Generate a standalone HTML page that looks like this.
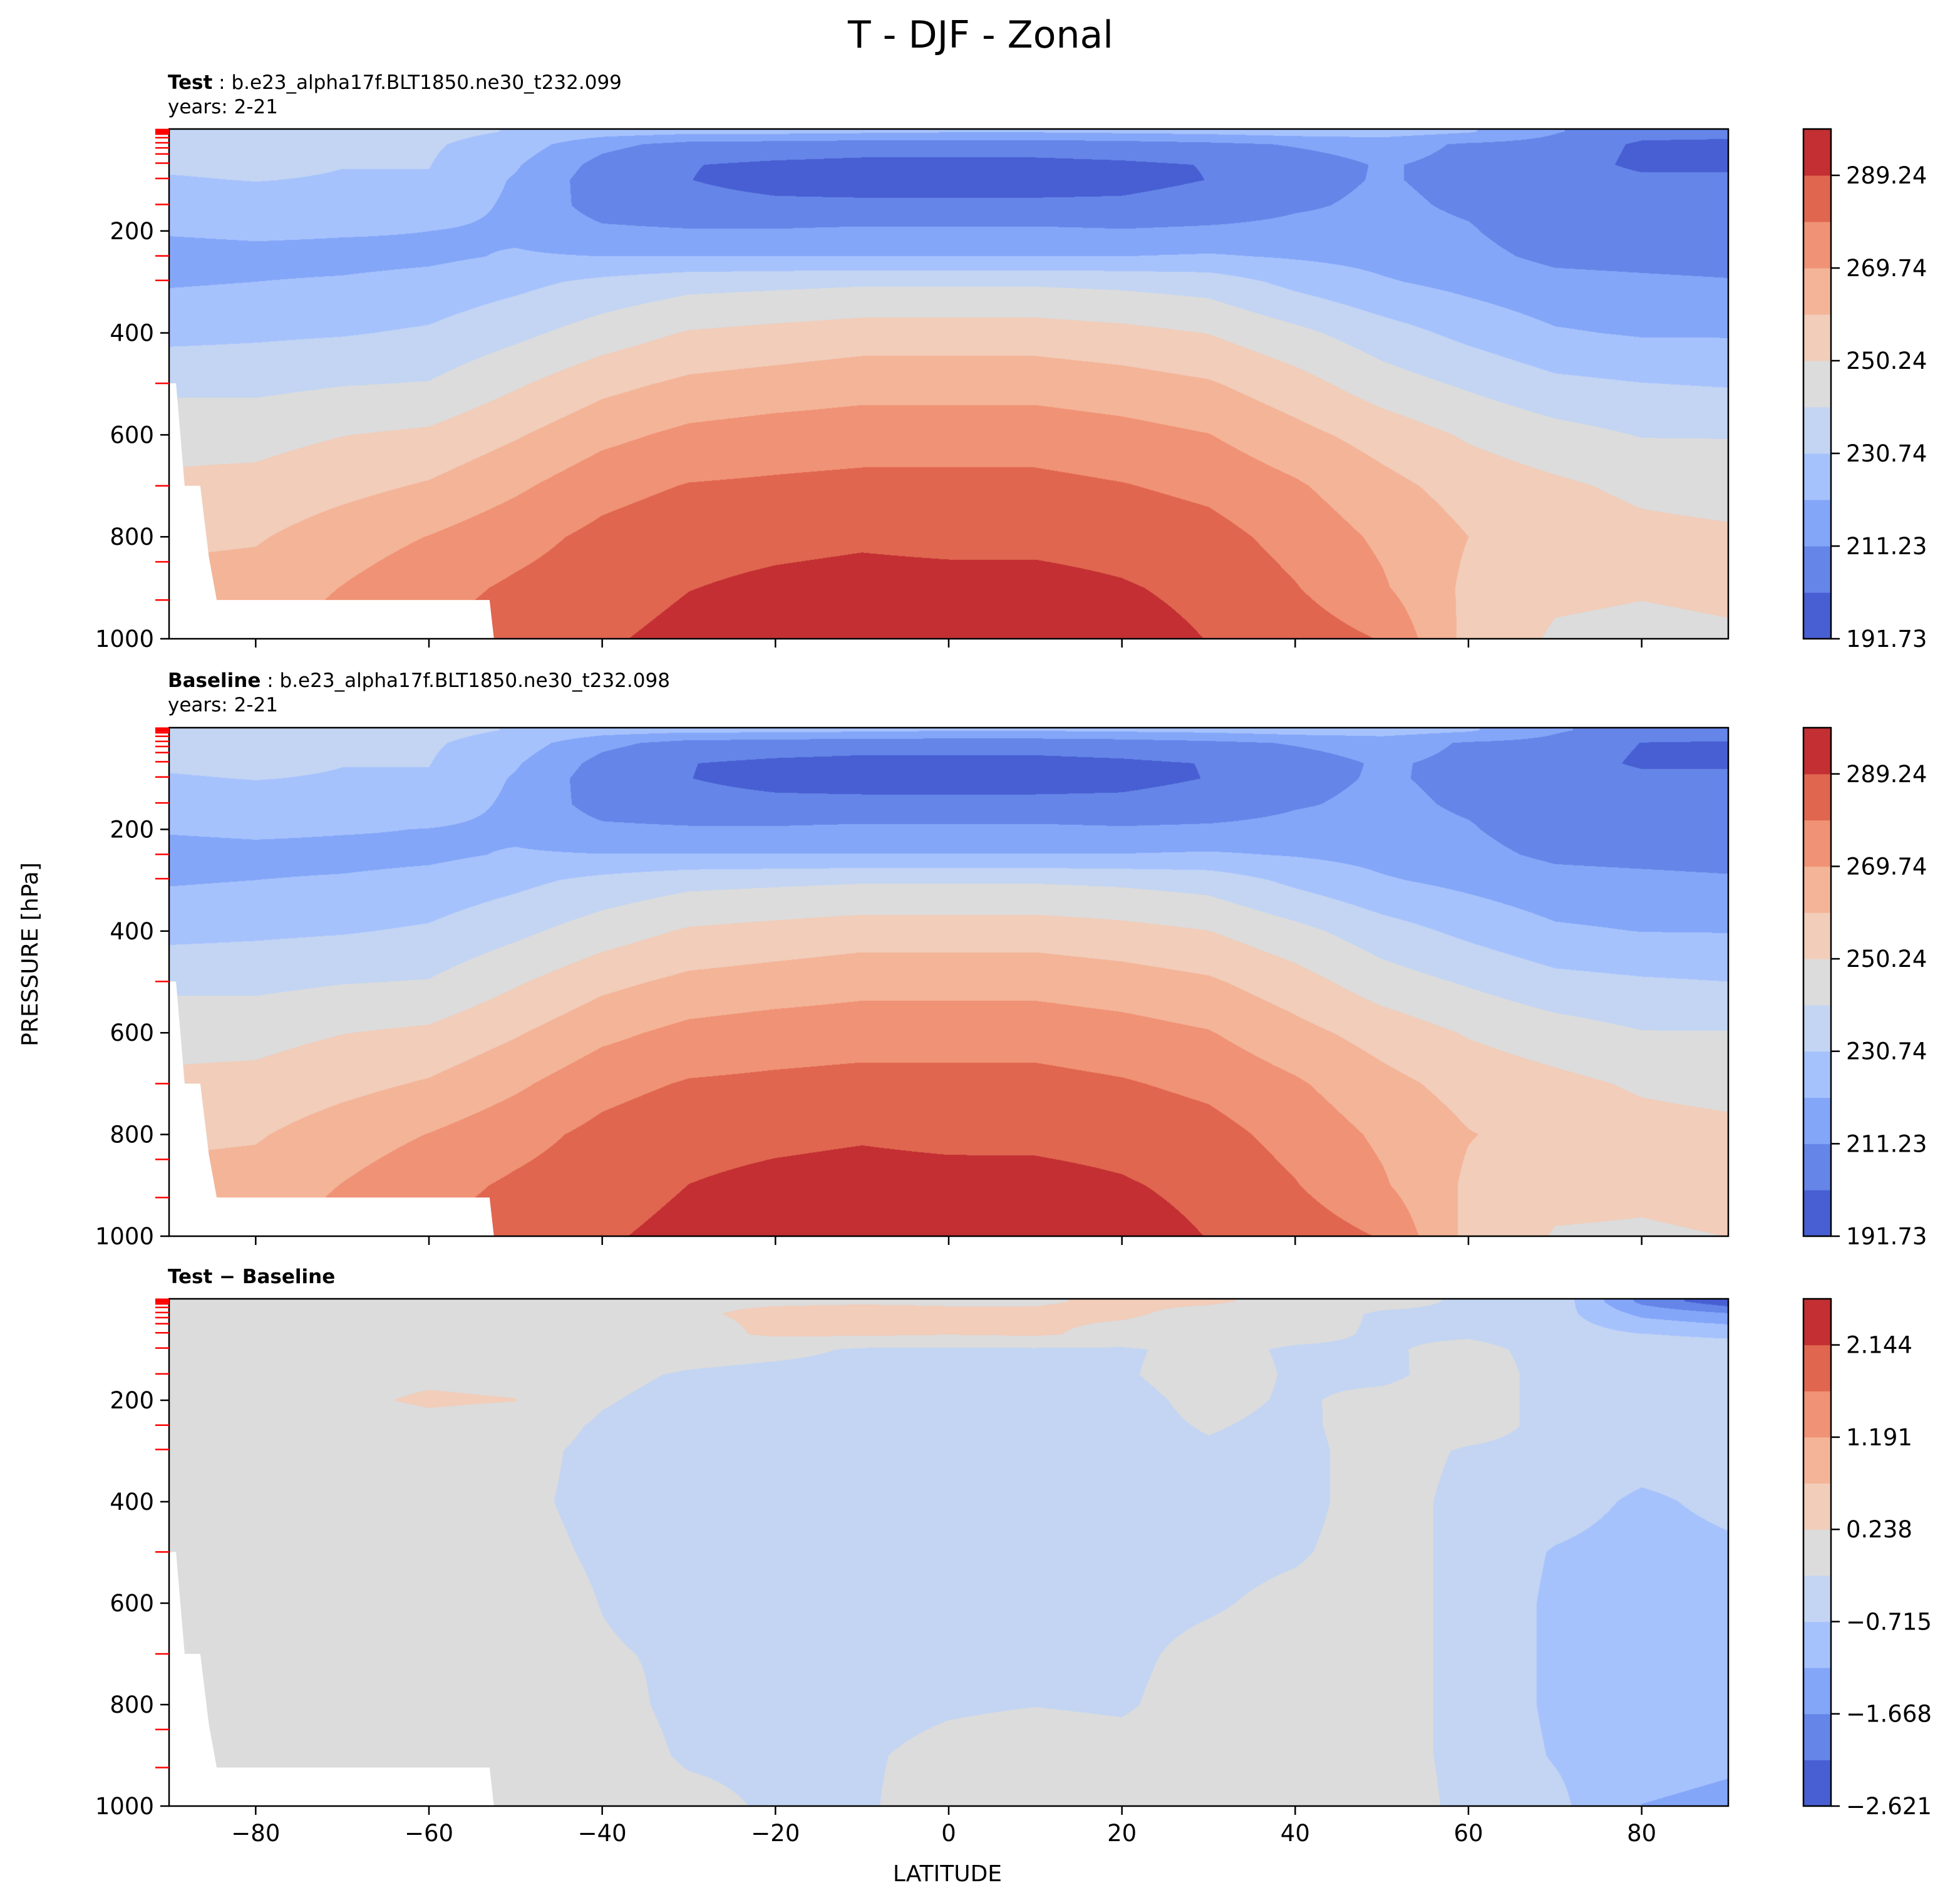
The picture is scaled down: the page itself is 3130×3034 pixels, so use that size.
<!DOCTYPE html>
<html><head><meta charset="utf-8">
<style>
html,body{margin:0;padding:0;background:#fff;}
#wrap{position:relative;width:3130px;height:3034px;overflow:hidden;font-family:"DejaVu Sans","Liberation Sans",sans-serif;}
canvas{position:absolute;}
svg{position:absolute;left:0;top:0;font-family:"DejaVu Sans","Liberation Sans",sans-serif;}
</style></head>
<body>
<div id="wrap">
<canvas id="c1" width="2490" height="814" style="left:270px;top:206px"></canvas>
<canvas id="c2" width="2490" height="812" style="left:270px;top:1162px"></canvas>
<canvas id="c3" width="2490" height="810" style="left:270px;top:2074px"></canvas>
<svg id="ov" width="3130" height="3034"></svg>
</div>
<script>
// ---------- data ----------
const lats = [-90,-80,-70,-60,-50,-40,-30,-20,-10,0,10,20,30,40,50,60,70,80,90];
const levels = [5,30,70,100,150,200,250,300,400,500,600,700,800,900,1000];
// test temperature (K), one array per latitude, values at each level
const tLatM90 = [234,233,232,230,226,222,217,220,228,238,247,252,258,263,267];
const tLatM80 = [235,234,233,231,227,223,218,221,229,238,247,253,259,264,268];
const tLatM70 = [234,233,231,230,227,222,218,222,230,240,250,257,265,270,274];
const tLatM60 = [234,232,231,230,227,221,219,224,232,241,252,261,270,276,280];
const tLatM50 = [230,226,222,220,219,219,222,228,238,249,259,268,276,281,284];
const tLatM40 = [226,214,208,206,207,213,221,233,245,257,267,276,282,285,288];
const tLatM30 = [224,208,201.8,201.6,204,212,221,237,251,262,272,280,286,289,292];
const tLatM20 = [224,207,200,199,203,212,221,238,253,264,274,281,287,291,295];
const tLatM10 = [223,206,199,198,203,213,221,239,255,266,275,282,288,292,297];
const tLat0   = [222,206,199,198,203,213,221,239,255,266,275,282,287,292,298];
const tLat10  = [222,206,199,198,203,213,221,239,255,266,275,282,287,292,297];
const tLat20  = [223,207,200,199,203,212,221,238,253,264,273,280,286,290,293];
const tLat30  = [224,209,201.8,201.6,205,213,222,236,250,261,270,277,283,287,289];
const tLat40  = [226,212,207,208,210,214,220,228,243,254,263,271,276,280,285];
const tLat50  = [226,215,212,212,213,214,218,222,235,245,256,263,268,271,279];
const tLat60  = [222,210,209,209,210,212,214,218,228,239,249,256,260,258,257];
const tLat70  = [212,208,207,208,207,206,209,214,222,233,244,252,256,252,249];
const tLat80  = [205,200,199,204,206,206,208,213,220,231,240,248,253,251,248];
const tLat90  = [205,199,199,204,205,205,207,212,220,230,240,246,252,252,249];
const testByLat = [tLatM90,tLatM80,tLatM70,tLatM60,tLatM50,tLatM40,tLatM30,tLatM20,tLatM10,tLat0,tLat10,tLat20,tLat30,tLat40,tLat50,tLat60,tLat70,tLat80,tLat90];
// test - baseline difference (K)
const dLatM90 = [0,0,0,0,0,0,0,0,0,0,0,0,0,0,0];
const dLatM80 = [0,0,0,0,0,0,0,0,0,0,0,0,0,0.1,0.1];
const dLatM70 = [0,0,0,0,0.1,0.15,0,0,0,0,0,0,0,0,0];
const dLatM60 = [0,0,0,0,0.15,0.3,0.1,0,0,0,0,0,0,0,0];
const dLatM50 = [0,0,0,0,0.1,0.25,0,-0.1,-0.15,-0.1,0,0,0,0,0];
const dLatM40 = [0.1,0.1,0,0,-0.1,-0.2,-0.3,-0.35,-0.35,-0.3,-0.25,-0.2,-0.1,0,0];
const dLatM30 = [0.2,0.2,0.1,0,-0.3,-0.4,-0.4,-0.4,-0.4,-0.4,-0.4,-0.3,-0.35,-0.3,-0.1];
const dLatM20 = [0.2,0.3,0.3,-0.1,-0.4,-0.4,-0.4,-0.4,-0.4,-0.4,-0.4,-0.4,-0.4,-0.35,-0.3];
const dLatM10 = [0.2,0.35,0.3,-0.3,-0.4,-0.4,-0.4,-0.4,-0.4,-0.4,-0.4,-0.4,-0.4,-0.3,-0.3];
const dLat0   = [0.2,0.3,0.25,-0.3,-0.4,-0.4,-0.4,-0.4,-0.4,-0.4,-0.4,-0.4,-0.3,-0.1,0];
const dLat10  = [0.2,0.3,0.3,-0.3,-0.4,-0.4,-0.4,-0.4,-0.4,-0.4,-0.4,-0.35,-0.25,0,0.05];
const dLat20  = [0.3,0.3,0.1,-0.3,-0.3,-0.4,-0.4,-0.4,-0.4,-0.4,-0.4,-0.35,-0.3,-0.05,0];
const dLat30  = [0.3,0.1,0,-0.1,0,-0.1,-0.2,-0.3,-0.4,-0.4,-0.3,-0.1,0,0,0];
const dLat40  = [0.1,0,-0.1,-0.3,-0.3,-0.3,-0.35,-0.4,-0.4,-0.3,-0.1,0,0,0,0];
const dLat50  = [-0.1,-0.3,-0.3,-0.3,-0.35,-0.1,0,0,0,0,0,0,0,0,0.1];
const dLat60  = [-0.3,-0.3,-0.3,-0.1,0,0,0,-0.3,-0.4,-0.4,-0.4,-0.4,-0.4,-0.4,-0.4];
const dLat70  = [-0.4,-0.5,-0.45,-0.4,-0.4,-0.4,-0.4,-0.4,-0.5,-0.75,-0.8,-0.8,-0.8,-0.75,-0.6];
const dLat80  = [-1.8,-1.3,-0.7,-0.5,-0.4,-0.4,-0.4,-0.5,-0.8,-0.9,-0.9,-0.9,-0.9,-1.0,-1.2];
const dLat90  = [-2.5,-1.6,-0.8,-0.5,-0.4,-0.4,-0.45,-0.5,-0.6,-0.8,-0.9,-0.9,-0.9,-1.1,-1.3];
const diffByLat = [dLatM90,dLatM80,dLatM70,dLatM60,dLatM50,dLatM40,dLatM30,dLatM20,dLatM10,dLat0,dLat10,dLat20,dLat30,dLat40,dLat50,dLat60,dLat70,dLat80,dLat90];
// missing-data (topography) mask outline
const maskLat = [-90,-89.2,-88.2,-86.4,-85.4,-84.5,-53,-52.5,-90];
const maskP   = [499,499,700,700,840,924,924,1000,1000];
// contour levels / tick labels
const tempMin = 191.73, tempStep = 9.75;
const diffMin = -2.621, diffStep = 0.4765;
const tempTicks = ["191.73","211.23","230.74","250.24","269.74","289.24"];
const diffTicks = ["\u22122.621","\u22121.668","\u22120.715","0.238","1.191","2.144"];
const latTicks = [-80,-60,-40,-20,0,20,40,60,80];
const pTicks = [200,400,600,800,1000];
const modelLevels = [1,2,3,5,7,10,17,27,37,49,67,97,148,249,297,499,700,849,924];
const colors = ["#485fd3","#6586e8","#84a6f8","#a6c2fd","#c3d5f3","#dcdcdc","#f1cdba","#f4b498","#f09275","#e0664f","#c32f32"];

// ---------- geometry ----------
const X0=270, X1=2760;
const panels=[{top:206,bot:1020},{top:1162,bot:1974},{top:2074,bot:2884}];
function xOf(lat){return X0+(lat+90)/180*(X1-X0);}
function yOf(p,pan){return pan.top+p/1000*(pan.bot-pan.top);}
function rgb(h){return [parseInt(h.slice(1,3),16),parseInt(h.slice(3,5),16),parseInt(h.slice(5,7),16)];}
const rgbs=colors.map(rgb);

function sample(field,lat,p){
  let i=0; while(i<lats.length-2 && lat>lats[i+1]) i++;
  let fx=(lat-lats[i])/(lats[i+1]-lats[i]); fx=Math.max(0,Math.min(1,fx));
  let pp=Math.max(levels[0],Math.min(1000,p));
  let j=0; while(j<levels.length-2 && pp>levels[j+1]) j++;
  let fy=(pp-levels[j])/(levels[j+1]-levels[j]);
  const a=field[i][j],b=field[i+1][j],c=field[i][j+1],d=field[i+1][j+1];
  return (a*(1-fx)+b*fx)*(1-fy)+(c*(1-fx)+d*fx)*fy;
}
function render(id,pan,fn,vmin,step){
  const cv=document.getElementById(id),ctx=cv.getContext('2d');
  const W=cv.width,H=cv.height,img=ctx.createImageData(W,H),dt=img.data;
  for(let y=0;y<H;y++){
    const p=(y+0.5)/H*1000;
    for(let x=0;x<W;x++){
      const lat=-90+(x+0.5)/W*180;
      let k=Math.floor((fn(lat,p)-vmin)/step); k=Math.max(0,Math.min(10,k));
      const c=rgbs[k],o=(y*W+x)*4;
      dt[o]=c[0];dt[o+1]=c[1];dt[o+2]=c[2];dt[o+3]=255;
    }
  }
  ctx.putImageData(img,0,0);
}
render('c1',panels[0],(l,p)=>sample(testByLat,l,p),tempMin,tempStep);
render('c2',panels[1],(l,p)=>sample(testByLat,l,p)-sample(diffByLat,l,p),tempMin,tempStep);
render('c3',panels[2],(l,p)=>sample(diffByLat,l,p),diffMin,diffStep);

// ---------- overlay ----------
const NS='http://www.w3.org/2000/svg', ov=document.getElementById('ov');
function mk(tag,attrs,parent){const e=document.createElementNS(NS,tag);for(const k in attrs)e.setAttribute(k,attrs[k]);(parent||ov).appendChild(e);return e;}
function txt(s,attrs){const e=mk('text',attrs);e.textContent=s;return e;}

let t=txt('T - DJF - Zonal',{x:1566,y:76,'font-size':60,'text-anchor':'middle',fill:'#000'});



const subs=[
  {b:'Test',r:' : b.e23_alpha17f.BLT1850.ne30_t232.099',y:142,yr:true},
  {b:'Baseline',r:' : b.e23_alpha17f.BLT1850.ne30_t232.098',y:1097,yr:true},
  {b:'Test \u2212 Baseline',r:'',y:2049,yr:false}];
const subNames=['test-subtitle','baseline-subtitle','difference-subtitle'];
subs.forEach((s,i)=>{
  const e=mk('text',{x:268,y:s.y,'font-size':31,fill:'#000'});
  
  
  const b=mk('tspan',{'font-weight':'bold'},e); b.textContent=s.b;
  if(s.r){const r=mk('tspan',{},e); r.textContent=s.r;}
  if(s.yr){const y=txt('years: 2-21',{x:268,y:s.y+39,'font-size':31,fill:'#000'});
    
    }
});

panels.forEach((pan,pi)=>{
  const pts=maskLat.map((l,i)=>xOf(l)+','+yOf(maskP[i],pan)).join(' ');
  const m=mk('polygon',{points:pts,fill:'#fff'});
  
  
  const f=mk('rect',{x:X0,y:pan.top,width:X1-X0,height:pan.bot-pan.top,fill:'none',stroke:'#000','stroke-width':2.5});
  
  
  modelLevels.forEach(p=>{
    const l=mk('line',{x1:X0-22,x2:X0,y1:yOf(p,pan),y2:yOf(p,pan),stroke:'#ff0000','stroke-width':2.5});
    
    
  });
  pTicks.forEach(p=>{
    const y=yOf(p,pan);
    const l=mk('line',{x1:X0-14,x2:X0,y1:y,y2:y,stroke:'#000','stroke-width':2.5});
    
    
    const tl=txt(String(p),{x:X0-24,y:y+13,'font-size':37,'text-anchor':'end',fill:'#000'});
    
    
  });
  latTicks.forEach(v=>{
    const x=xOf(v);
    const l=mk('line',{x1:x,x2:x,y1:pan.bot,y2:pan.bot+14,stroke:'#000','stroke-width':2.5});
    
    
    if(pi===2){
      const tl=txt(v<0?'\u2212'+(-v):String(v),{x:x,y:pan.bot+56,'font-size':37,'text-anchor':'middle',fill:'#000'});
      
      
    }
  });
  const cb=mk('g',{});
  
  
  const h=(pan.bot-pan.top)/11;
  colors.forEach((c,k)=>{
    const r=mk('rect',{x:2880,y:pan.bot-(k+1)*h,width:44,height:h+0.5,fill:c},cb);
    
    
  });
  mk('rect',{x:2880,y:pan.top,width:44,height:pan.bot-pan.top,fill:'none',stroke:'#000','stroke-width':2.5},cb);
  const ticks=pi===2?diffTicks:tempTicks;
  ticks.forEach((s,k)=>{
    const y=pan.bot-2*k*h;
    mk('line',{x1:2924,x2:2938,y1:y,y2:y,stroke:'#000','stroke-width':2.5},cb);
    const tl=txt(s,{x:2948,y:y+13,'font-size':37,fill:'#000'});
    
    
  });
});

t=txt('PRESSURE [hPa]',{x:0,y:0,'font-size':36,'text-anchor':'middle',fill:'#000',transform:'translate(60,1524) rotate(-90)'});


t=txt('LATITUDE',{x:1513,y:3004,'font-size':36,'text-anchor':'middle',fill:'#000'});


</script>
</body></html>
